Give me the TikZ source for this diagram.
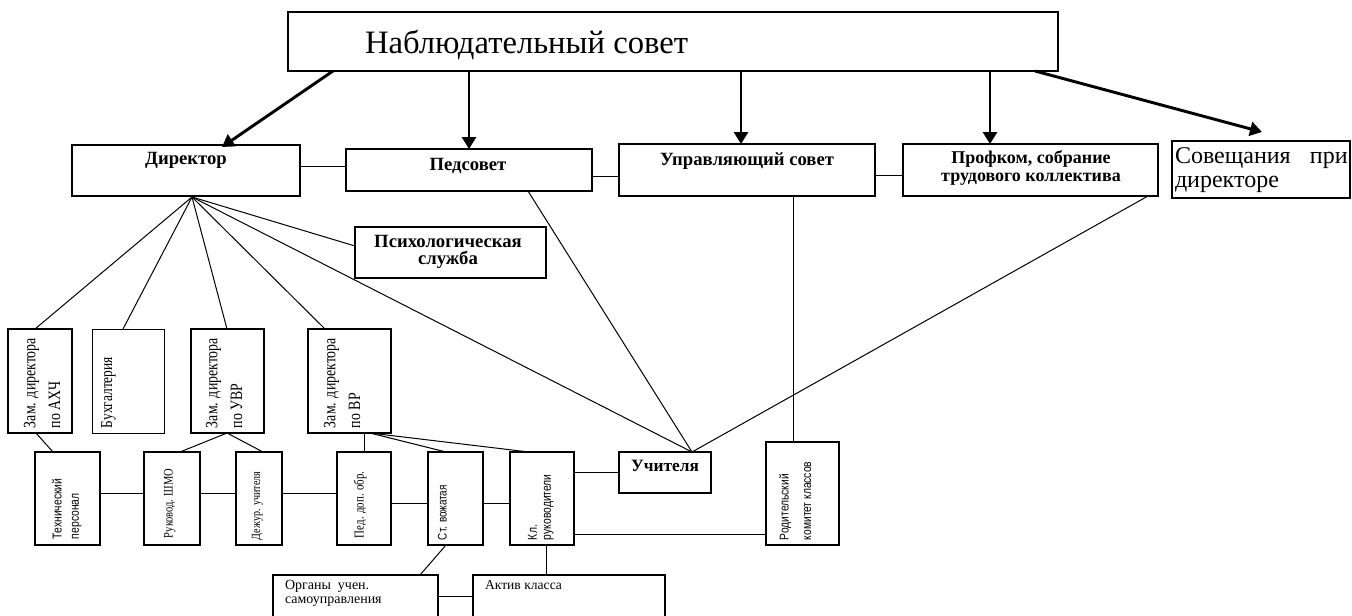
\documentclass[tikz,border=0pt]{standalone}
\usepackage{fontspec}
\setmainfont{Liberation Serif}
\newfontfamily\condserif[FakeStretch=0.8]{Liberation Serif}
\newfontfamily\condsans[FakeStretch=0.8]{Liberation Sans}
\usetikzlibrary{arrows.meta,calc,fit}
\begin{document}
\begin{tikzpicture}[x=0.75pt,y=-0.75pt,
  box/.style={draw, line width=0.9pt, inner sep=0pt, outer sep=0pt},
  con/.style={line width=0.75pt},
  arr/.style={line width=2.2pt, -{Triangle[length=9pt,width=10.5pt]}},
  txt/.style={inner sep=0pt, outer sep=0pt},
  boldlab/.style={txt, align=center, font=\bfseries\fontsize{14}{13}\selectfont},
  vserif/.style={txt, rotate=90, anchor=north west, align=left, font=\condserif\fontsize{#1}{18.5}\selectfont},
  vsans/.style={txt, rotate=90, anchor=north west, align=left, font=\condsans\fontsize{#1}{13}\selectfont},
  small/.style={txt, anchor=north west, align=left, font=\fontsize{10.5}{11}\selectfont}]
\fill[white] (0,0) rectangle (1352,615);
\useasboundingbox (0,0) rectangle (1352,615);

% boxes
\node[box, line width=1.3pt, fit={(288,12) (1058,71)}] (top) {};
\node[box, fit={(72,145) (300,196)}] (dir) {};
\node[box, fit={(346,149) (592,191)}] (ped) {};
\node[box, fit={(619,144) (875,196)}] (upr) {};
\node[box, fit={(903,144) (1158,196)}] (prof) {};
\node[box, line width=1.8pt, fit={(1172,141) (1350,198)}] (sov) {};
\node[box, fit={(355,227) (546,278)}] (psy) {};
\node[box, fit={(8,329) (72,433)}] (zahch) {};
\node[box, line width=0.6pt, fit={(92,329) (164,433)}] (buh) {};
\node[box, fit={(191,329) (264,433)}] (zuvr) {};
\node[box, line width=1.2pt, fit={(308,329) (391,433)}] (zvr) {};
\node[box, fit={(35,452) (100,545)}] (tech) {};
\node[box, fit={(144,452) (200,545)}] (shmo) {};
\node[box, fit={(236,452) (282,545)}] (dezh) {};
\node[box, line width=1.2pt, fit={(337,452) (391,545)}] (pdo) {};
\node[box, fit={(428,452) (483,545)}] (stv) {};
\node[box, fit={(510,452) (574,545)}] (kl) {};
\node[box, fit={(619,452) (711,493)}] (uch) {};
\node[box, fit={(766,442) (839,545)}] (rod) {};
\node[box, fit={(273,575) (438,630)}] (org) {};
\node[box, fit={(473,575) (665,630)}] (akt) {};

% texts
\node[txt, anchor=base west, font=\fontsize{24.5}{28}\selectfont] (t-top) at (365,53) {Наблюдательный совет};
\node[boldlab] (t-dir) at (186,160) {Директор};
\node[boldlab] (t-ped) at (468,166) {Педсовет};
\node[boldlab] (t-upr) at (747,161) {Управляющий совет};
\node[boldlab, font=\bfseries\fontsize{13.5}{13}\selectfont] (t-prof) at (1031,168) {Профком, собрание\\трудового коллектива};
\node[txt, anchor=north west, align=left, font=\fontsize{18}{18}\selectfont] (t-sov) at (1175,148) {\makebox[129.5pt][s]{Совещания\hfill при}\\директоре};
\node[boldlab] (t-psy) at (448,252) {Психологическая\\служба};
\node[boldlab, font=\bfseries\fontsize{13}{13}\selectfont] (t-uch) at (665,466) {Учителя};

\node[vserif=13] (t-zahch) at (24,428) {Зам. директора\\по АХЧ};
\node[vserif=12.6] (t-buh) at (101,428) {Бухгалтерия};
\node[vserif=13] (t-zuvr) at (206,428) {Зам. директора\\по УВР};
\node[vserif=13] (t-zvr) at (324,428) {Зам. директора\\по ВР};
\node[vsans=9.7] (t-tech) at (52,539) {Технический\\персонал};
\node[vserif=9.8] (t-shmo) at (164,538) {Руковод. ШМО};
\node[vserif=9.4] (t-dezh) at (252,540) {Дежур. учителя};
\node[vserif=10.2] (t-pdo) at (354,538) {Пед. доп. обр.};
\node[vsans=9.3] (t-stv) at (438,540) {Ст. вожатая};
\node[vsans=9.7, font=\condsans\fontsize{9.7}{10.5}\selectfont] (t-kl) at (528,540) {Кл.\\руководители};
\node[vsans=9.6, font=\condsans\fontsize{9.6}{17}\selectfont] (t-rod) at (779,540) {Родительский\\комитет классов};
\node[small] (t-org) at (285,580) {Органы\ \ учен.\\самоуправления};
\node[small, font=\fontsize{10.2}{11}\selectfont] (t-akt) at (485,581) {Актив класса};

% arrows from the top board
\draw[arr] ($(top.south west)+(45,0)$) -- ($(dir.north west)+(150,2)$);
\draw[arr] ($(top.south west)+(181,0)$) -- ($(ped.north west)+(123,0)$);
\draw[arr] ($(top.south west)+(453,0)$) -- ($(upr.north west)+(122,0)$);
\draw[arr] ($(top.south west)+(702,0)$) -- ($(prof.north west)+(87,0)$);
\draw[arr] ($(top.south west)+(747,0)$) -- ($(sov.north west)+(90,-9)$);

% horizontal links in the second row
\draw[con] ($(dir.north east)+(0,21)$) -- ($(ped.north west)+(0,17)$);
\draw[con] ($(ped.north east)+(0,27)$) -- ($(upr.north west)+(0,32)$);
\draw[con] ($(upr.north east)+(0,31)$) -- ($(prof.north west)+(0,31)$);

% fan from the director
\coordinate (fan) at ($(dir.south west)+(120,1)$);
\coordinate (uchtop) at ($(uch.north west)+(73,0)$);
\draw[con] (fan) -- ($(zahch.north west)+(27,0)$);
\draw[con] (fan) -- ($(buh.north west)+(31,0)$);
\draw[con] (fan) -- ($(zuvr.north west)+(36,0)$);
\draw[con] (fan) -- ($(zvr.north west)+(17,0)$);
\draw[con] (fan) -- (uchtop);
\draw[con] (fan) -- ($(psy.north west)+(0,19)$);

% links to the teachers and parents
\draw[con] ($(ped.south west)+(182,0)$) -- (uchtop);
\draw[con] ($(prof.south west)+(245,0)$) -- (uchtop);
\draw[con] ($(upr.south west)+(174,0)$) -- ($(rod.north west)+(27,0)$);

% deputies to the third row
\draw[con] ($(zahch.south west)+(28,0)$) -- ($(tech.north west)+(18,0)$);
\draw[con] ($(zuvr.south west)+(36,0)$) -- ($(shmo.north west)+(36,0)$);
\draw[con] ($(zuvr.south west)+(36,0)$) -- ($(dezh.north west)+(27,0)$);
\draw[con] ($(zvr.south west)+(56,0)$) -- ($(pdo.north west)+(27,0)$);
\draw[con] ($(zvr.south west)+(62,0)$) -- ($(stv.north west)+(18,0)$);
\draw[con] ($(zvr.south west)+(62,0)$) -- ($(kl.north west)+(19,0)$);

% third row horizontal links
\draw[con] ($(tech.north east)+(0,41)$) -- ($(shmo.north west)+(0,41)$);
\draw[con] ($(shmo.north east)+(0,41)$) -- ($(dezh.north west)+(0,41)$);
\draw[con] ($(dezh.north east)+(0,41)$) -- ($(pdo.north west)+(0,41)$);
\draw[con] ($(pdo.north east)+(0,51)$) -- ($(stv.north west)+(0,51)$);
\draw[con] ($(stv.north east)+(0,51)$) -- ($(kl.north west)+(0,51)$);
\draw[con] ($(kl.north east)+(0,20)$) -- ($(uch.north west)+(0,20)$);
\draw[con] ($(kl.north east)+(0,82)$) -- ($(rod.north west)+(0,92)$);

% bottom row
\draw[con] ($(stv.south west)+(18,0)$) -- ($(org.north west)+(147,0)$);
\draw[con] ($(kl.south west)+(36,0)$) -- ($(akt.north west)+(73,0)$);
\draw[con] ($(org.north east)+(0,21)$) -- ($(akt.north west)+(0,21)$);
\end{tikzpicture}
\end{document}
